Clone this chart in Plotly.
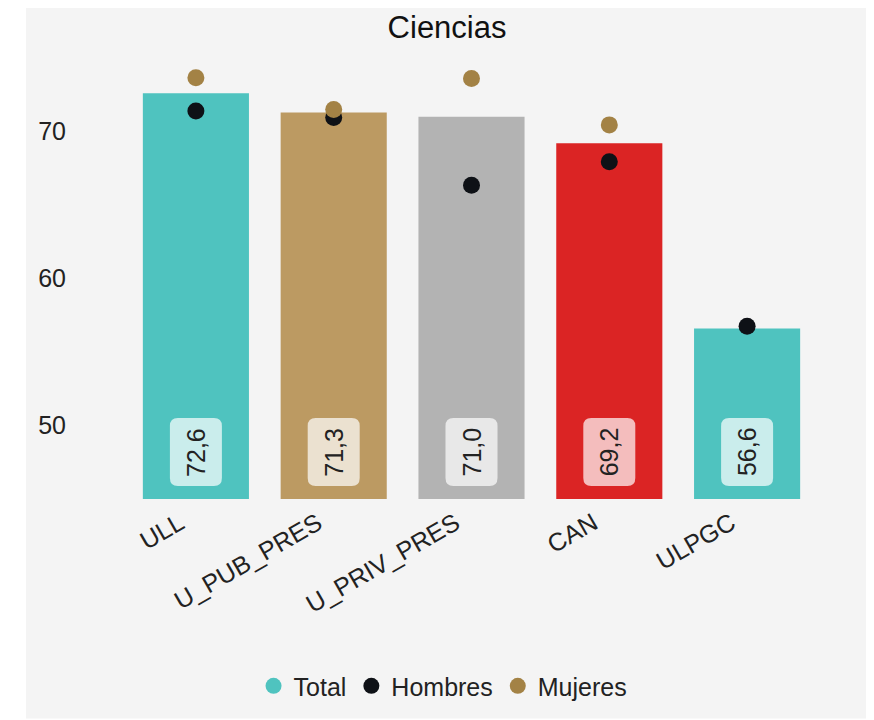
import plotly.graph_objects as go

categories = ["ULL", "U_PUB_PRES", "U_PRIV_PRES", "CAN", "ULPGC"]
total = [72.6, 71.3, 71.0, 69.2, 56.6]
hombres = [71.4, 70.95, 66.35, 67.95, 56.75]
mujeres = [73.65, 71.5, 73.6, 70.45, None]
bar_colors = ["#4fc3bf", "#bc9a62", "#b3b3b3", "#db2424", "#4fc3bf"]
y_ticks = [50, 60, 70]

FONT = "Arial, 'Liberation Sans', sans-serif"


def rounded_box(w, h, y0, r):
    x0, x1 = -w / 2, w / 2
    y1 = y0 + h
    return (f"M {x0 + r},{y0} L {x1 - r},{y0} Q {x1},{y0} {x1},{y0 + r} "
            f"L {x1},{y1 - r} Q {x1},{y1} {x1 - r},{y1} L {x0 + r},{y1} "
            f"Q {x0},{y1} {x0},{y1 - r} L {x0},{y0 + r} Q {x0},{y0} {x0 + r},{y0} Z")


fig = go.Figure()
fig.add_trace(go.Bar(x=categories, y=total, marker=dict(color=bar_colors, line=dict(width=0)),
                     showlegend=False, name="Total"))
fig.add_trace(go.Scatter(x=[None], y=[None], mode="markers", name="Total",
                         marker=dict(color="#4fc3bf", size=17)))
fig.add_trace(go.Scatter(x=categories, y=hombres, mode="markers", name="Hombres",
                         marker=dict(color="#0e1116", size=17)))
fig.add_trace(go.Scatter(x=categories, y=mujeres, mode="markers", name="Mujeres",
                         marker=dict(color="#a38245", size=17)))

for i, (c, v) in enumerate(zip(categories, total)):
    fig.add_shape(type="path", xref="x", yref="y", xsizemode="pixel", ysizemode="pixel",
                  xanchor=i, yanchor=45, path=rounded_box(52, 68, 13, 8),
                  fillcolor="rgba(255,255,255,0.7)", line=dict(width=0), layer="above")
    fig.add_annotation(x=c, y=45, yref="y", xref="x", text=f"{v:.1f}".replace(".", ","),
                       textangle=-90, showarrow=False, yanchor="middle", xanchor="center", yshift=47,
                       font=dict(size=25, color="#222222", family=FONT))

fig.add_shape(type="rect", xref="paper", yref="paper", x0=-0.1466, x1=1.0785, y0=-0.4977, y1=1.1131,
              fillcolor="#f4f4f4", line=dict(width=0), layer="below")

fig.update_layout(
    width=866, height=712,
    margin=dict(l=119, r=58, t=50, b=220),
    paper_bgcolor="white", plot_bgcolor="rgba(0,0,0,0)",
    font=dict(family=FONT, size=25, color="#222222"),
    title=dict(text="Ciencias", x=0.507, xref="container", xanchor="center", y=0.988, yanchor="top",
               font=dict(size=31, color="#111111", family=FONT)),
    bargap=0.23,
    showlegend=True,
    legend=dict(orientation="h", x=0.4587, xanchor="center", y=-0.421, yanchor="middle",
                font=dict(size=25), itemsizing="trace", bgcolor="rgba(0,0,0,0)",
                itemwidth=30, tracegroupgap=0),
)
fig.update_xaxes(tickangle=-30, showgrid=False, zeroline=False, showline=False, ticks="",
                 tickfont=dict(size=25), ticklabelstandoff=4, ticklabelshift=-16)
fig.update_yaxes(range=[45, 75], tickvals=y_ticks, showgrid=False, zeroline=False, showline=False,
                 ticks="", tickfont=dict(size=25), ticklabelstandoff=60)

fig.write_html("out.html")
